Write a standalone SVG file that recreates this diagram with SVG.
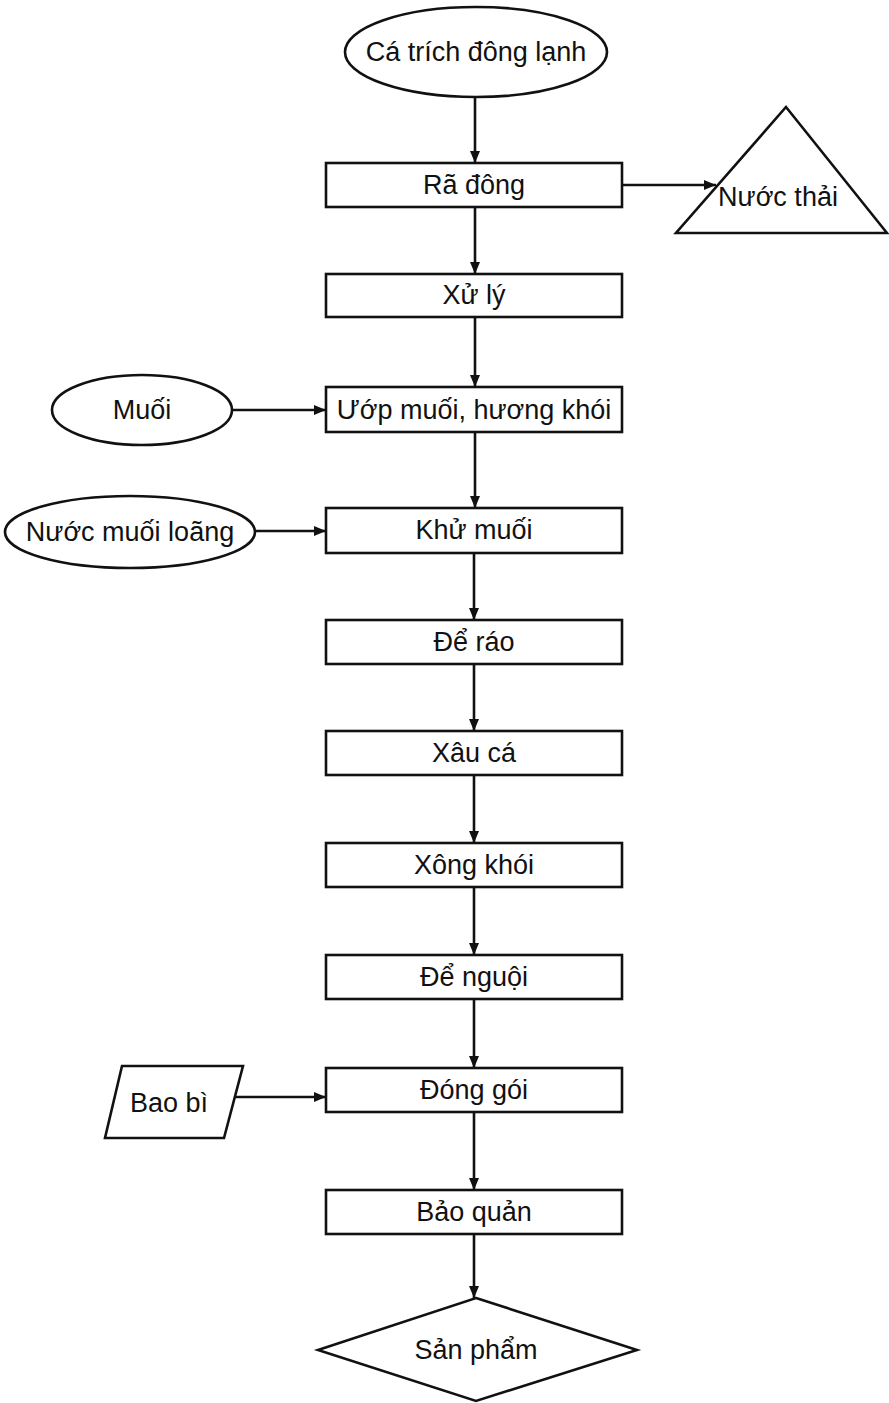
<svg xmlns="http://www.w3.org/2000/svg" width="889" height="1403" viewBox="0 0 889 1403">
<style>
.s{fill:#fff;stroke:#111;stroke-width:2.6}
.t{font-family:"Liberation Sans",Arial,sans-serif;font-size:27px;fill:#111;text-anchor:middle;dominant-baseline:central}
.c{stroke:#111;stroke-width:2.6;fill:none;marker-end:url(#a)}
</style>
<defs>
<marker id="a" viewBox="0 0 12 10" refX="12" refY="5" markerWidth="12" markerHeight="10" markerUnits="userSpaceOnUse" orient="auto">
<path d="M0,0 L12,5 L0,10 Z" fill="#111"/>
</marker>
</defs>
<rect width="889" height="1403" fill="#fff"/>
<g id="connectors">
<line class="c" x1="475" y1="97" x2="475" y2="163"/>
<line class="c" x1="622" y1="185" x2="716" y2="185"/>
<line class="c" x1="475" y1="207" x2="475" y2="274"/>
<line class="c" x1="475" y1="317" x2="475" y2="387"/>
<line class="c" x1="232" y1="410" x2="326" y2="410"/>
<line class="c" x1="475" y1="432" x2="475" y2="508"/>
<line class="c" x1="255" y1="531" x2="326" y2="531"/>
<line class="c" x1="474" y1="553" x2="474" y2="620"/>
<line class="c" x1="474" y1="664" x2="474" y2="731"/>
<line class="c" x1="474" y1="775" x2="474" y2="843"/>
<line class="c" x1="474" y1="887" x2="474" y2="955"/>
<line class="c" x1="474" y1="999" x2="474" y2="1068"/>
<line class="c" x1="235" y1="1097" x2="326" y2="1097"/>
<line class="c" x1="474" y1="1112" x2="474" y2="1190"/>
<line class="c" x1="474" y1="1234" x2="474" y2="1298"/>
</g>
<g id="n-ca-trich"><ellipse class="s" cx="476" cy="52" rx="131" ry="45"/><text class="t" x="476" y="52">Cá trích đông lạnh</text></g>
<g id="n-ra-dong"><rect class="s" x="326" y="163" width="296" height="44"/><text class="t" x="474" y="185">Rã đông</text></g>
<g id="n-nuoc-thai"><polygon class="s" points="786,107 887,233 676,233"/><text class="t" x="778" y="197">Nước thải</text></g>
<g id="n-xu-ly"><rect class="s" x="326" y="274" width="296" height="43"/><text class="t" x="474" y="295">Xử lý</text></g>
<g id="n-muoi"><ellipse class="s" cx="142" cy="410" rx="90" ry="35"/><text class="t" x="142" y="410">Muối</text></g>
<g id="n-uop"><rect class="s" x="326" y="387" width="296" height="45"/><text class="t" x="474" y="410">Ướp muối, hương khói</text></g>
<g id="n-nuoc-muoi"><ellipse class="s" cx="130" cy="532" rx="125" ry="36"/><text class="t" x="130" y="532">Nước muối loãng</text></g>
<g id="n-khu-muoi"><rect class="s" x="326" y="508" width="296" height="45"/><text class="t" x="474" y="530">Khử muối</text></g>
<g id="n-de-rao"><rect class="s" x="326" y="620" width="296" height="44"/><text class="t" x="474" y="642">Để ráo</text></g>
<g id="n-xau-ca"><rect class="s" x="326" y="731" width="296" height="44"/><text class="t" x="474" y="753">Xâu cá</text></g>
<g id="n-xong-khoi"><rect class="s" x="326" y="843" width="296" height="44"/><text class="t" x="474" y="865">Xông khói</text></g>
<g id="n-de-nguoi"><rect class="s" x="326" y="955" width="296" height="44"/><text class="t" x="474" y="977">Để nguội</text></g>
<g id="n-bao-bi"><polygon class="s" points="122,1066 243,1066 224,1138 105,1138"/><text class="t" x="169" y="1103">Bao bì</text></g>
<g id="n-dong-goi"><rect class="s" x="326" y="1068" width="296" height="44"/><text class="t" x="474" y="1090">Đóng gói</text></g>
<g id="n-bao-quan"><rect class="s" x="326" y="1190" width="296" height="44"/><text class="t" x="474" y="1212">Bảo quản</text></g>
<g id="n-san-pham"><polygon class="s" points="476,1298 637,1350 476,1401 318,1350"/><text class="t" x="476" y="1350">Sản phẩm</text></g>
</svg>
